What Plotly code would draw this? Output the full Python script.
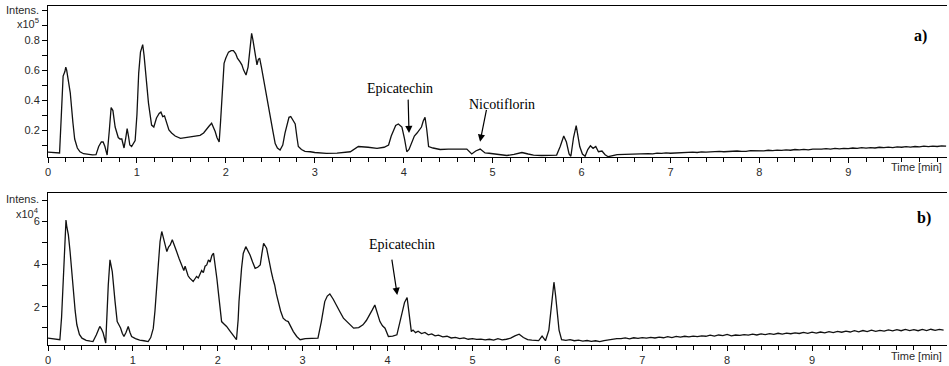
import plotly.graph_objects as go

# ---------------- Panel a) (Intens. x10^5) : peak region ----------------
time_a_main = [0.00,0.05,0.10,0.13,0.15,0.17,0.19,0.20,0.21,0.23,0.25,0.28,0.30,0.33,0.36,0.40,0.45,0.50,0.54,0.57,
               0.60,0.62,0.64,0.665,0.69,0.71,0.73,0.755,0.79,0.81,0.83,0.855,0.875,0.89,0.905,0.92,0.94,0.96,0.98,1.00,
               1.02,1.04,1.065,1.08,1.10,1.13,1.165,1.19,1.22,1.25,1.27,1.29,1.31,1.335,1.36,1.39,1.43,1.49,1.55,1.60,
               1.65,1.71,1.75,1.785,1.81,1.84,1.86,1.88,1.90,1.925,1.94,1.96,1.98,2.00,2.03,2.06,2.085,2.11,2.13,2.16,
               2.18,2.20,2.227,2.25,2.27,2.29,2.305,2.317,2.335,2.35,2.365,2.38,2.40,2.42,2.44,2.47,2.50,2.53,2.555,2.58,
               2.61,2.64,2.665,2.69,2.71,2.73,2.75,2.78,2.80,2.815,2.85,2.89,2.95,3.00,3.13,3.25,3.40,3.49,3.60,3.70,
               3.78,3.83,3.86,3.885,3.91,3.94,3.98,4.01,4.035,4.06,4.09,4.12,4.15,4.20,4.22,4.24,4.26,4.28,4.33,4.41,
               4.50,4.63,4.71,4.765,4.81,4.86,4.915,4.96,5.01,5.08,5.16,5.24,5.33,5.40,5.46,5.55,5.64,5.72,5.76,5.80,
               5.83,5.86,5.88,5.91,5.94,5.96,5.98,6.01,6.04,6.07,6.10,6.13,6.16,6.19,6.23,6.265,6.30,6.40]
intens_a_main = [0.052,0.050,0.048,0.047,0.30,0.56,0.59,0.62,0.60,0.53,0.45,0.25,0.14,0.08,0.055,0.042,0.036,0.034,0.036,0.09,
                 0.12,0.12,0.09,0.033,0.20,0.35,0.33,0.22,0.15,0.14,0.14,0.08,0.15,0.21,0.16,0.10,0.09,0.11,0.13,0.30,
                 0.58,0.72,0.77,0.70,0.56,0.38,0.233,0.22,0.28,0.31,0.32,0.29,0.295,0.24,0.20,0.18,0.16,0.145,0.15,0.155,
                 0.16,0.165,0.18,0.21,0.225,0.245,0.22,0.19,0.15,0.12,0.25,0.48,0.645,0.68,0.72,0.73,0.73,0.71,0.68,0.655,
                 0.635,0.60,0.567,0.62,0.74,0.845,0.80,0.755,0.70,0.635,0.67,0.68,0.62,0.55,0.49,0.39,0.29,0.19,0.11,0.08,
                 0.067,0.10,0.18,0.25,0.285,0.29,0.27,0.24,0.15,0.09,0.07,0.058,0.055,0.050,0.044,0.046,0.055,0.09,0.085,0.078,
                 0.085,0.10,0.16,0.20,0.23,0.24,0.22,0.14,0.055,0.07,0.11,0.16,0.18,0.22,0.26,0.285,0.20,0.09,0.08,0.07,
                 0.072,0.07,0.073,0.04,0.06,0.073,0.047,0.045,0.04,0.036,0.03,0.038,0.05,0.04,0.033,0.03,0.032,0.033,0.09,0.16,
                 0.12,0.04,0.025,0.15,0.23,0.17,0.09,0.04,0.025,0.07,0.095,0.078,0.09,0.055,0.06,0.035,0.022,0.036]
# Panel a) : noisy baseline tail
time_a_tail = [6.45,6.50,6.55,6.60,6.65,6.70,6.75,6.80,6.85,6.90,
               6.95,7.00,7.05,7.10,7.15,7.20,7.25,7.30,7.35,7.40,
               7.45,7.50,7.55,7.60,7.65,7.70,7.75,7.80,7.85,7.90,
               7.95,8.00,8.05,8.10,8.15,8.20,8.25,8.30,8.35,8.40,
               8.45,8.50,8.55,8.60,8.65,8.70,8.75,8.80,8.85,8.90,
               8.95,9.00,9.05,9.10,9.15,9.20,9.25,9.30,9.35,9.40,
               9.45,9.50,9.55,9.60,9.65,9.70,9.75,9.80,9.85,9.90,
               9.95,10.00,10.05,10.10]
intens_a_tail = [0.037,0.041,0.039,0.043,0.040,0.044,0.042,0.041,0.046,0.044,
                 0.048,0.045,0.047,0.051,0.048,0.050,0.053,0.050,0.054,0.052,
                 0.055,0.053,0.057,0.055,0.058,0.056,0.060,0.058,0.057,0.062,
                 0.060,0.063,0.061,0.065,0.062,0.066,0.064,0.068,0.065,0.070,
                 0.067,0.071,0.068,0.073,0.070,0.072,0.076,0.073,0.077,0.074,
                 0.078,0.076,0.080,0.077,0.082,0.079,0.083,0.080,0.085,0.082,
                 0.086,0.083,0.088,0.085,0.089,0.086,0.090,0.087,0.092,0.089,
                 0.093,0.090,0.094,0.092]

# ---------------- Panel b) (Intens. x10^4) : peak region ----------------
time_b_main = [0.00,0.05,0.10,0.14,0.16,0.18,0.19,0.20,0.212,0.22,0.24,0.26,0.28,0.30,0.32,0.34,0.37,0.40,0.45,0.50,
               0.53,0.57,0.61,0.63,0.65,0.68,0.70,0.71,0.73,0.757,0.79,0.815,0.835,0.855,0.875,0.895,0.92,0.945,0.965,0.985,
               1.03,1.08,1.13,1.18,1.21,1.24,1.26,1.28,1.30,1.32,1.34,1.355,1.37,1.385,1.40,1.42,1.44,1.464,1.49,1.515,
               1.545,1.575,1.60,1.615,1.633,1.65,1.67,1.69,1.71,1.73,1.75,1.77,1.79,1.81,1.83,1.85,1.87,1.89,1.91,1.93,
               1.95,1.97,1.99,2.006,2.025,2.045,2.07,2.104,2.14,2.18,2.22,2.24,2.25,2.28,2.30,2.33,2.355,2.38,2.41,2.44,
               2.47,2.50,2.52,2.54,2.575,2.60,2.615,2.63,2.65,2.67,2.69,2.71,2.74,2.77,2.80,2.83,2.86,2.89,2.93,2.97,
               3.03,3.09,3.18,3.22,3.26,3.29,3.32,3.36,3.40,3.44,3.48,3.54,3.60,3.66,3.71,3.75,3.79,3.82,3.85,3.88,
               3.91,3.94,3.97,4.01,4.06,4.11,4.14,4.16,4.20,4.23,4.25]
intens_b_main = [0.52,0.50,0.48,0.45,1.5,3.5,4.6,5.7,6.07,5.8,5.37,4.59,3.6,2.71,1.8,1.15,0.7,0.52,0.42,0.38,
                 0.36,0.68,1.07,0.95,0.76,0.29,2.2,3.02,4.2,3.65,2.24,1.3,1.15,1.0,0.75,0.6,0.8,1.07,0.8,0.6,
                 0.5,0.43,0.40,0.36,0.55,0.98,1.8,2.71,4.0,5.06,5.53,5.3,5.1,4.8,4.59,4.8,4.9,5.14,4.9,4.59,
                 4.25,3.96,3.7,3.9,3.6,3.45,3.34,3.25,3.18,3.3,3.42,3.35,3.55,3.7,3.6,3.9,3.96,4.2,4.1,4.4,
                 4.51,3.96,3.3,2.71,1.9,1.3,1.2,1.07,0.88,0.68,0.45,1.4,2.24,3.8,4.5,4.82,4.65,4.43,4.1,3.8,
                 3.85,3.96,4.5,4.98,4.75,4.2,3.8,3.65,3.3,3.02,2.6,2.24,1.8,1.46,1.35,1.3,1.05,0.83,0.6,0.45,
                 0.5,0.52,0.52,1.3,2.24,2.5,2.6,2.35,2.08,1.75,1.46,1.2,0.99,1.02,1.15,1.35,1.61,1.85,2.08,1.7,
                 1.3,1.1,0.99,0.6,0.62,0.68,1.2,1.61,2.2,2.43,1.8]
# Panel b) : late small peaks
time_b_mid = [4.28,4.30,4.33,4.36,4.40,4.44,4.48,4.52,4.56,4.60,
              4.65,4.70,4.75,4.80,4.85,4.90,4.95,5.00,5.05,5.10,
              5.15,5.20,5.25,5.30,5.35,5.40,5.45,5.50,5.55,5.60,
              5.65,5.70,5.75,5.78,5.82,5.86,5.90,5.92,5.96,5.98,
              6.00,6.02,6.05,6.10,6.15,6.20,6.25,6.30,6.35,6.40,
              6.45,6.50,6.55,6.60,6.65,6.70]
intens_b_mid = [0.83,0.90,0.78,0.85,0.74,0.79,0.68,0.72,0.63,0.66,
                0.58,0.61,0.53,0.56,0.50,0.53,0.47,0.50,0.46,0.48,
                0.44,0.47,0.43,0.50,0.44,0.47,0.52,0.63,0.71,0.55,
                0.45,0.43,0.40,0.41,0.62,0.40,0.90,1.61,3.15,2.50,
                1.61,0.90,0.45,0.42,0.45,0.40,0.43,0.38,0.41,0.37,
                0.40,0.36,0.41,0.44,0.48,0.50]
# Panel b) : noisy baseline tail
time_b_tail = [6.75,6.80,6.85,6.90,6.95,7.00,7.05,7.10,7.15,7.20,
               7.25,7.30,7.35,7.40,7.45,7.50,7.55,7.60,7.65,7.70,
               7.75,7.80,7.85,7.90,7.95,8.00,8.05,8.10,8.15,8.20,
               8.25,8.30,8.35,8.40,8.45,8.50,8.55,8.60,8.65,8.70,
               8.75,8.80,8.85,8.90,8.95,9.00,9.05,9.10,9.15,9.20,
               9.25,9.30,9.35,9.40,9.45,9.50,9.55,9.60,9.65,9.70,
               9.75,9.80,9.85,9.90,9.95,10.00,10.05,10.10,10.15,10.20,
               10.25,10.30,10.35,10.40,10.45,10.50,10.55]
intens_b_tail = [0.50,0.53,0.49,0.54,0.51,0.55,0.52,0.56,0.53,0.57,
                 0.54,0.59,0.55,0.60,0.57,0.61,0.58,0.62,0.59,0.63,
                 0.61,0.66,0.62,0.67,0.64,0.70,0.63,0.67,0.65,0.69,
                 0.66,0.71,0.67,0.72,0.69,0.73,0.70,0.75,0.71,0.76,
                 0.73,0.77,0.74,0.79,0.75,0.80,0.76,0.81,0.77,0.83,
                 0.78,0.84,0.80,0.85,0.81,0.87,0.82,0.88,0.83,0.90,
                 0.84,0.89,0.85,0.91,0.86,0.92,0.87,0.93,0.88,0.92,
                 0.87,0.93,0.88,0.94,0.89,0.93,0.90]

time_a = time_a_main + time_a_tail
intens_a = intens_a_main + intens_a_tail
time_b = time_b_main + time_b_mid + time_b_tail
intens_b = intens_b_main + intens_b_mid + intens_b_tail

# tick labels
ytick_a_vals = [0.1,0.2,0.3,0.4,0.5,0.6,0.7,0.8,0.9,1.0]
ytick_a_text = ["","0.2","","0.4","","0.6","","0.8","",""]
ytick_b_vals = [1,2,3,4,5,6,7]
ytick_b_text = ["","2","","4","","6",""]
xtick_a_vals = [0,1,2,3,4,5,6,7,8,9]
xtick_b_vals = [0,1,2,3,4,5,6,7,8,9]

W, H = 949, 366
LINE = "#111111"
TICKFONT = dict(family="Liberation Sans, Arial, sans-serif", size=11, color="#2a2a2a")
SERIF = "Liberation Serif, Times New Roman, serif"

fig = go.Figure()
fig.add_trace(go.Scatter(x=time_a, y=intens_a, mode="lines", xaxis="x", yaxis="y",
                         line=dict(color=LINE, width=1.3), showlegend=False, hoverinfo="skip"))
fig.add_trace(go.Scatter(x=time_b, y=intens_b, mode="lines", xaxis="x2", yaxis="y2",
                         line=dict(color=LINE, width=1.3), showlegend=False, hoverinfo="skip"))

xdom = [48 / W, 947 / W]
dom_a = [1 - 157 / H, 1 - 5.5 / H]
dom_b = [1 - 345 / H, 1 - 193 / H]

def xaxis_common(rng, vals, anchor):
    return dict(domain=xdom, range=rng, anchor=anchor, showline=True, linecolor="black", linewidth=1,
                mirror=True, showgrid=False, zeroline=False, ticks="outside", ticklen=5, tickwidth=1,
                tickcolor="black", tickvals=vals, ticktext=[str(v) for v in vals], tickfont=TICKFONT,
                automargin=False,
                minor=dict(dtick=0.2, tick0=0, ticks="outside", ticklen=4, tickwidth=1, tickcolor="black",
                           showgrid=False))

def yaxis_common(dom, rng, vals, text, anchor):
    return dict(domain=dom, range=rng, anchor=anchor, showline=True, linecolor="black", linewidth=1,
                showgrid=False, zeroline=False, ticks="outside", ticklen=5, tickwidth=1, tickcolor="black",
                tickvals=vals, ticktext=text, tickfont=TICKFONT, automargin=False)

fig.update_layout(
    width=W, height=H, margin=dict(l=0, r=0, t=0, b=0, autoexpand=False),
    paper_bgcolor="white", plot_bgcolor="white",
    xaxis=xaxis_common([0, 10.11], xtick_a_vals, "y"),
    yaxis=yaxis_common(dom_a, [0.02, 1.031], ytick_a_vals, ytick_a_text, "x"),
    xaxis2=xaxis_common([0, 10.59], xtick_b_vals, "y2"),
    yaxis2=yaxis_common(dom_b, [0.2, 7.34], ytick_b_vals, ytick_b_text, "x2"),
)

ann = []
# axis titles
for ytxt, ypix in [("Intens.", 10), ("x10<sup>5</sup>", 23), ("Intens.", 199), ("x10<sup>4</sup>", 213)]:
    ann.append(dict(text=ytxt, xref="paper", yref="paper", x=41 / W, y=1 - ypix / H, xanchor="right",
                    yanchor="middle", showarrow=False, font=TICKFONT))
for ypix in [167, 356]:
    ann.append(dict(text="Time [min]", xref="paper", yref="paper", x=944 / W, y=1 - ypix / H, xanchor="right",
                    yanchor="middle", showarrow=False, font=TICKFONT))
# panel labels
ann.append(dict(text="<b>a)</b>", xref="paper", yref="paper", x=929 / W, y=1 - 25 / H, showarrow=False,
                font=dict(family=SERIF, size=16, color="black")))
ann.append(dict(text="<b>b)</b>", xref="paper", yref="paper", x=932.5 / W, y=1 - 218 / H, showarrow=False,
                font=dict(family=SERIF, size=16, color="black")))
# compound labels
ann.append(dict(text="Epicatechin", xref="x", yref="y", x=3.96, y=0.48, showarrow=False,
                font=dict(family=SERIF, size=14, color="black")))
ann.append(dict(text="Nicotiflorin", xref="x", yref="y", x=5.11, y=0.373, showarrow=False,
                font=dict(family=SERIF, size=14, color="black")))
ann.append(dict(text="Epicatechin", xref="x2", yref="y2", x=4.166, y=4.90, showarrow=False,
                font=dict(family=SERIF, size=14, color="black")))
# arrows
arrow_style = dict(showarrow=True, arrowhead=2, arrowsize=1.2, arrowwidth=1.2, arrowcolor="black", text="",
                   standoff=0, startstandoff=0)
ann.append(dict(xref="x", yref="y", axref="x", ayref="y", x=4.06, y=0.18, ax=4.05, ay=0.413, **arrow_style))
ann.append(dict(xref="x", yref="y", axref="x", ayref="y", x=4.859, y=0.122, ax=4.934, ay=0.345, **arrow_style))
ann.append(dict(xref="x2", yref="y2", axref="x2", ayref="y2", x=4.114, y=2.55, ax=4.048, ay=4.28, **arrow_style))

fig.update_layout(annotations=ann)
fig.write_html("out.html", config={"displayModeBar": False},
               post_script="document.body.style.margin='0';document.body.style.padding='0';")
